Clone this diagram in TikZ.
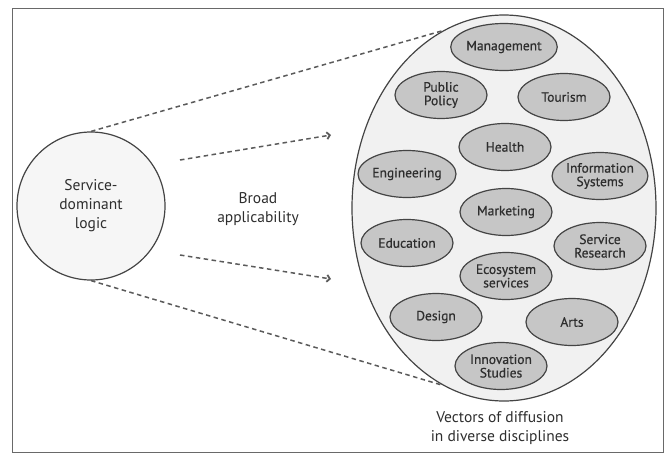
\documentclass[tikz,border=0pt]{standalone}
\usepackage{fontspec}
\setmainfont{PT Sans}
\newfontfamily\discfont[FakeBold=0.6]{PT Sans}
\usetikzlibrary{shapes.geometric,arrows.meta}
\definecolor{txt}{HTML}{2E2E2E}
\definecolor{edge}{HTML}{444444}
\definecolor{discfill}{HTML}{C6C6C6}
\definecolor{bigfill}{HTML}{F1F1F1}
\definecolor{circfill}{HTML}{F6F6F6}
\definecolor{dashc}{HTML}{5A5A5A}
\tikzset{
  disc/.style={ellipse, draw=edge, line width=1.2pt, fill=discfill, text=txt,
    minimum width=92pt, minimum height=47pt, inner sep=0pt, align=center,
    font=\discfont\fontsize{13.5}{13.5}\selectfont},
  dashline/.style={draw=dashc, line width=1.5pt, dash pattern=on 4.5pt off 3.5pt},
  label/.style={text=txt, align=center, font=\fontsize{15.5}{19}\selectfont},
  tip/.style={-{Straight Barb[length=3pt,width=7pt,line width=1.8pt]}},
}
\begin{document}
\begin{tikzpicture}[x=1pt,y=-1pt]
\useasboundingbox (0,0) rectangle (665,453);
\draw[edge!80, line width=1pt] (12.5,8.5) rectangle (663,452);
% big ellipse
\node[ellipse, draw=edge, line width=1.2pt, fill=bigfill, minimum width=304pt, minimum height=386pt, inner sep=0pt] (big) at (504,208) {};
% circle
\node[circle, draw=edge, line width=1.2pt, fill=circfill, minimum size=148pt, inner sep=0pt, label, text=txt] (sdl) at (91,206) {Service-\\dominant\\logic};
\node[label] (broad) at (258,209) {Broad\\applicability};
\node[label] (vec) at (500,428) {Vectors of diffusion\\in diverse disciplines};
% disciplines
\node[disc] (man) at (504,47) {Management};
\node[disc] (pub) at (441,95) {Public\\Policy};
\node[disc] (tou) at (564,97) {Tourism};
\node[disc] (hea) at (505,147) {Health};
\node[disc] (eng) at (407,174) {Engineering};
\node[disc] (inf) at (600,176) {Information\\Systems};
\node[disc] (mar) at (506,212) {Marketing};
\node[disc] (edu) at (407,243) {Education};
\node[disc] (ser) at (600,246) {Service\\Research};
\node[disc] (eco) at (506,276) {Ecosystem\\services};
\node[disc] (des) at (436,317) {Design};
\node[disc] (art) at (572,322) {Arts};
\node[disc] (inn) at (501,366) {Innovation\\Studies};
% connectors
\coordinate (a1s) at (180,160);
\coordinate (a1e) at (331,135);
\coordinate (a2s) at (180,255);
\coordinate (a2e) at (331,279);
\draw[dashline] (sdl.north) -- (big.109);
\draw[dashline] (sdl.south) -- (big.-109);
\draw[dashline, tip] (a1s) -- (a1e);
\draw[dashline, tip] (a2s) -- (a2e);
\end{tikzpicture}
\end{document}
